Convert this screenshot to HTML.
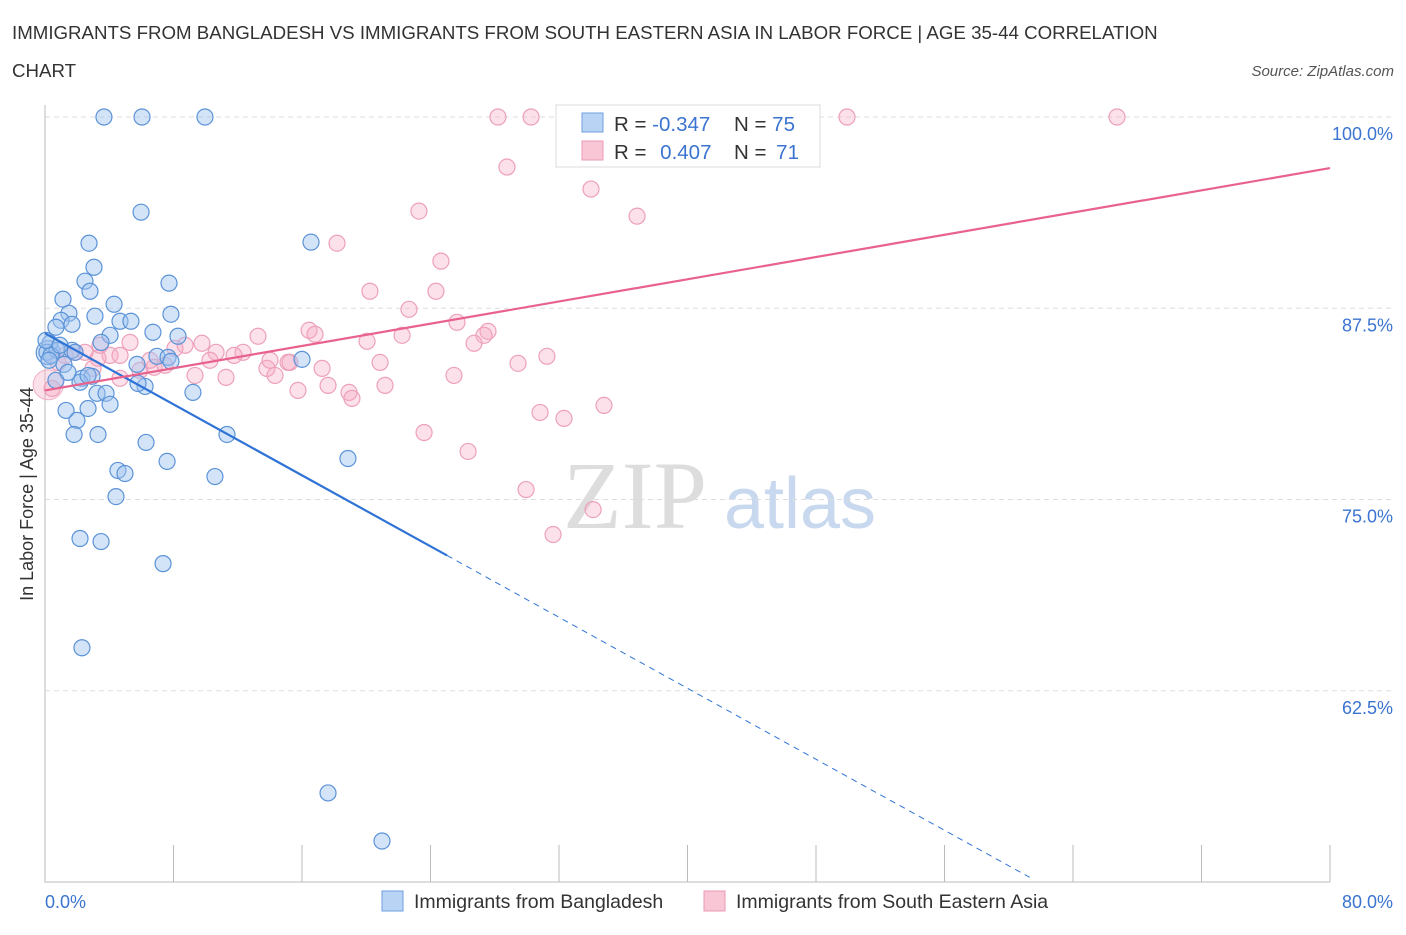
<!DOCTYPE html>
<html><head><meta charset="utf-8"><style>
body{margin:0;background:#fff;font-family:"Liberation Sans",sans-serif}
</style></head><body>
<svg id="chart" width="1406" height="930" xmlns="http://www.w3.org/2000/svg" font-family="Liberation Sans, sans-serif">
<text x="12" y="39" font-size="18.7" fill="#333">IMMIGRANTS FROM BANGLADESH VS IMMIGRANTS FROM SOUTH EASTERN ASIA IN LABOR FORCE | AGE 35-44 CORRELATION</text>
<text x="12" y="77" font-size="18.7" fill="#333">CHART</text>
<text x="1394" y="76" font-size="15" fill="#555" font-style="italic" text-anchor="end">Source: ZipAtlas.com</text>
<g>
<text x="635" y="528" font-size="96" fill="#ddd" text-anchor="middle" font-family="Liberation Serif, serif">ZIP</text>
<text x="800" y="528" font-size="72" fill="#c8d8ee" text-anchor="middle">atlas</text>
</g>
<g id="grid"></g>
<g id="axes"></g>
<g id="pts"></g>
<g id="lines"></g>
<text transform="translate(33,494) rotate(-90)" font-size="18" fill="#333" text-anchor="middle">In Labor Force | Age 35-44</text>
<text x="45" y="908" font-size="18" fill="#3b74d0">0.0%</text>
<text x="1393" y="908" font-size="18" fill="#3b74d0" text-anchor="end">80.0%</text>
<g>
<rect x="556" y="105" width="264" height="62" fill="#fff" stroke="#ddd"/>
<rect x="582" y="113" width="21" height="19" fill="#b9d3f5" stroke="#6f9fde"/>
<rect x="582" y="141" width="21" height="19" fill="#f9c6d6" stroke="#eb9ab5"/>
<text x="614" y="131" font-size="20.5" fill="#333">R = <tspan fill="#3b74d0">-0.347</tspan></text>
<text x="734" y="131" font-size="20.5" fill="#333">N = <tspan fill="#3b74d0">75</tspan></text>
<text x="614" y="159" font-size="20.5" fill="#333">R = <tspan fill="#3b74d0" dx="8">0.407</tspan></text>
<text x="734" y="159" font-size="20.5" fill="#333">N = <tspan fill="#3b74d0" dx="4">71</tspan></text>
</g>
<g>
<rect x="382" y="891" width="21" height="20" fill="#b9d3f5" stroke="#6f9fde"/>
<text x="414" y="908" font-size="19.5" fill="#333">Immigrants from Bangladesh</text>
<rect x="704" y="891" width="21" height="20" fill="#f9c6d6" stroke="#eb9ab5"/>
<text x="736" y="908" font-size="19.5" fill="#333">Immigrants from South Eastern Asia</text>
</g>
</svg>
<script>
const yTicks=[100,87.5,75,62.5];
const yTickLabels=["100.0%","87.5%","75.0%","62.5%"];
const xTicks=[0,8,16,24,32,40,48,56,64,72,80];
const blueX=[3.67,6.04,9.96,5.98,2.74,16.56,3.05,2.49,7.72,2.80,1.12,4.30,7.84,3.11,1.49,1.00,1.68,4.67,5.35,0.68,6.72,4.05,8.28,3.49,0.31,0.12,0.75,1.68,6.97,7.66,7.84,5.73,1.18,16.0,0.68,2.30,2.93,2.18,3.24,3.80,4.05,6.23,5.79,9.21,1.31,2.68,1.99,11.33,1.81,3.30,6.29,18.86,7.60,4.54,4.98,10.58,4.42,2.18,3.49,7.35,2.30,17.62,20.98,0.37,0.06,0.93,1.87,0.25,2.68,1.43];
const blueY=[100,100,100,93.78,91.75,91.82,90.18,89.27,89.14,88.61,88.09,87.76,87.11,86.98,87.17,86.71,86.45,86.65,86.65,86.26,85.93,85.73,85.67,85.27,85.21,84.62,84.75,84.75,84.36,84.29,84.03,83.83,83.83,84.16,82.79,82.92,83.05,82.66,81.94,81.94,81.22,82.39,82.59,82.0,80.82,80.95,80.17,79.25,79.25,79.25,78.73,77.68,77.49,76.90,76.70,76.50,75.19,72.45,72.25,70.81,65.31,55.82,52.68,84.42,85.40,85.08,84.62,84.10,83.11,83.31];
const pinkX=[28.20,30.26,43.15,49.93,66.74,28.76,33.99,23.28,36.86,18.18,24.65,20.23,24.34,22.66,25.65,27.58,27.33,22.23,16.44,16.81,20.05,26.71,31.25,29.45,20.86,13.26,9.77,5.29,8.72,8.09,12.33,10.65,11.77,15.13,13.82,15.25,14.32,4.05,4.67,3.30,2.49,1.25,5.91,6.79,9.34,11.27,17.25,15.75,17.62,18.93,19.11,21.17,25.46,30.82,32.31,34.80,23.60,26.34,29.95,34.12,31.63,0.44,0.81,1.87,6.54,7.47,10.27,3.42,4.67,14.01,2.99];
const pinkY=[100,100,100,100,100,96.73,95.29,93.85,93.52,91.75,90.58,88.61,88.61,87.43,86.58,85.99,85.73,85.73,86.06,85.80,85.34,85.21,84.36,83.90,83.96,85.67,85.21,85.27,85.08,84.88,84.62,84.62,84.42,83.96,83.57,83.96,83.11,84.42,84.42,84.23,84.62,84.42,83.44,83.64,83.11,82.98,83.57,82.13,82.46,82.0,81.61,82.46,83.11,80.69,80.30,81.15,79.38,78.14,75.65,74.34,72.71,82.26,83.96,84.62,84.10,83.77,84.10,85.08,82.92,84.10,83.57];
const bigPinkX=[0.2], bigPinkY=[82.5];
const bigBlueX=[0.2], bigBlueY=[84.6];
const blueTrend=[85.86,39.46];
const pinkTrend=[82.13,96.66];
const NS="http://www.w3.org/2000/svg";
const X0=45,X1=1330,YT=117,YB=882;
function sx(v){return X0+(v/80)*(X1-X0);}
function sy(v){return YT+(100-v)/50*(YB-YT);}
function mk(t,a,p){const e=document.createElementNS(NS,t);for(const k in a)e.setAttribute(k,a[k]);p.appendChild(e);return e;}
const grid=document.getElementById('grid'),axes=document.getElementById('axes'),pts=document.getElementById('pts'),lines=document.getElementById('lines');
yTicks.forEach((t,i)=>{
 const l=mk('line',{x1:X0,x2:1395,y1:sy(t),y2:sy(t),stroke:'#ddd','stroke-dasharray':'5,4'},grid);
 
 
 const tx=mk('text',{x:1393,y:sy(t)+23,'font-size':18,fill:'#3b74d0','text-anchor':'end'},grid);
 tx.textContent=yTickLabels[i];
 
 
});
const ax=mk('path',{d:`M${X0},105V${YB}H${X1}`,stroke:'#bbb',fill:'none'},axes);


xTicks.forEach(t=>{
 const l=mk('line',{x1:sx(t),x2:sx(t),y1:845,y2:YB,stroke:'#bbb'},axes);
 
 
});
bigPinkX.forEach((x,i)=>{
 const c=mk('circle',{cx:sx(x),cy:sy(bigPinkY[i]),r:15,fill:'rgba(246,170,196,0.35)',stroke:'#f0b0c6','stroke-width':1},pts);
 
 
});
pinkX.forEach((x,i)=>{
 const c=mk('circle',{cx:sx(x),cy:sy(pinkY[i]),r:8,fill:'rgba(246,170,196,0.35)',stroke:'#eda0ba','stroke-width':1.2},pts);
 
 
});
bigBlueX.forEach((x,i)=>{
 const c=mk('circle',{cx:sx(x),cy:sy(bigBlueY[i]),r:12,fill:'rgba(160,196,240,0.45)',stroke:'#5b93d8','stroke-width':1.2},pts);
 
 
});
blueX.forEach((x,i)=>{
 const c=mk('circle',{cx:sx(x),cy:sy(blueY[i]),r:8,fill:'rgba(160,196,240,0.45)',stroke:'#5b93d8','stroke-width':1.2},pts);
 
 
});
function ty(tr,x){return tr[0]+(tr[1]-tr[0])*x/80;}
const bEnd=25.03,bDash=61.3;
const bl=mk('line',{x1:sx(0),y1:sy(ty(blueTrend,0)),x2:sx(bEnd),y2:sy(ty(blueTrend,bEnd)),stroke:'#2f73d6','stroke-width':2.2},lines);


const bd=mk('line',{x1:sx(bEnd),y1:sy(ty(blueTrend,bEnd)),x2:sx(bDash),y2:sy(ty(blueTrend,bDash)),stroke:'#2f73d6','stroke-width':1,'stroke-dasharray':'6,5'},lines);


const pl=mk('line',{x1:sx(0),y1:sy(ty(pinkTrend,0)),x2:sx(80),y2:sy(ty(pinkTrend,80)),stroke:'#e8628d','stroke-width':2.2},lines);


</script>
</body></html>
